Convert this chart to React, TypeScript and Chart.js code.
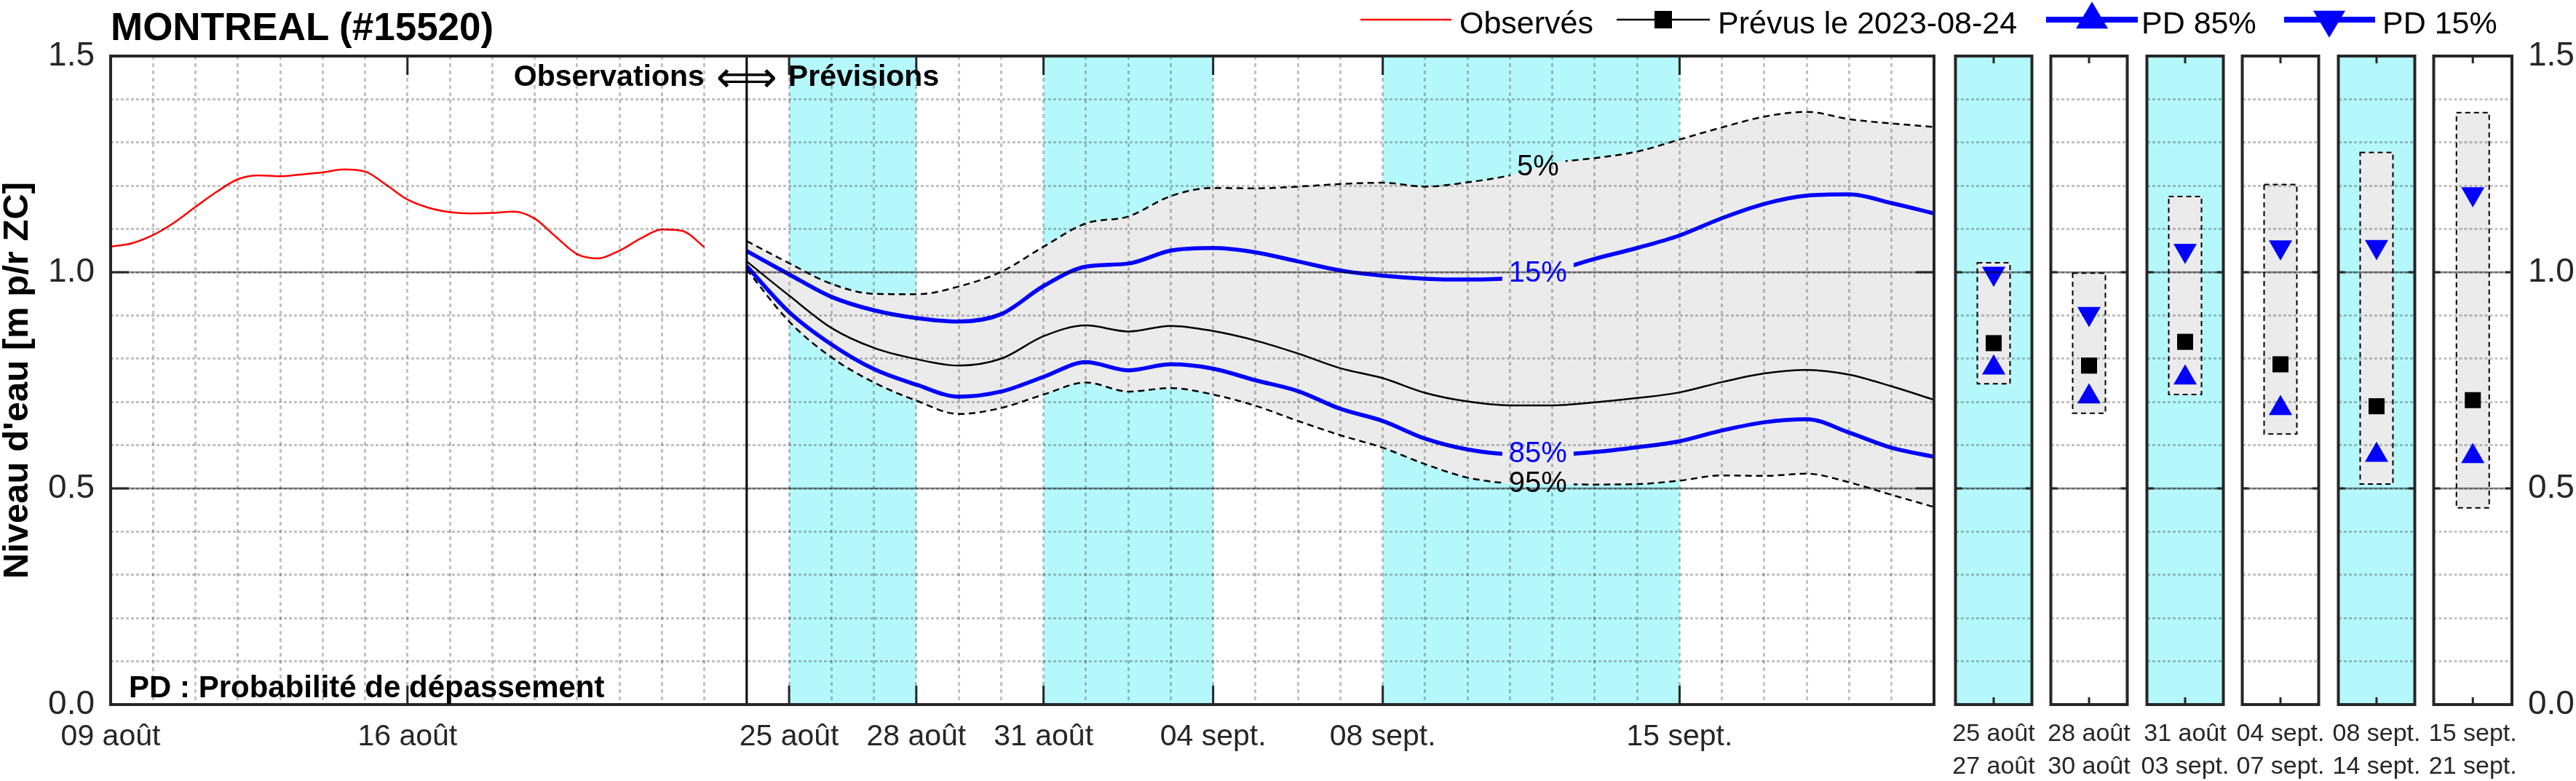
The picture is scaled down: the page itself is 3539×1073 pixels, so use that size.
import React, { useEffect, useRef } from 'react';
import { Chart, registerables } from 'chart.js';

Chart.register(...registerables);

const FONT = "'Liberation Sans', Arial, Helvetica, sans-serif";
const ARROW_FONT = "'DejaVu Sans', sans-serif";

// ---------------- data ----------------
// x axis: days since 09 août 2023
const X_MAX_DAY = 43;
const DATE_TICK_DAYS = [0, 7, 16, 19, 22, 26, 30, 37];
const DATE_TICK_LABELS = ['09 août', '16 août', '25 août', '28 août', '31 août', '04 sept.', '08 sept.', '15 sept.'];
const FORECAST_START_DAY = 15;
const SHADED_START_DAYS = [16, 22, 30];
const SHADED_END_DAYS = [19, 26, 37];

const Y_MIN = 0;
const Y_MAX = 1.5;
const Y_STEP = 0.1;
const Y_LABELED = [0, 0.5, 1.0, 1.5];
const Y_MAJOR_LINES = [0.5, 1.0];

// observed water level
const OBS_DAYS = [0, 0.5, 1, 1.5, 2, 2.5, 3, 3.5, 4, 4.5, 5, 5.5, 6, 6.5, 7, 7.5, 8, 8.5, 9, 9.5, 10, 10.5, 11, 11.5, 12, 12.5, 13, 13.5, 14];
const OBS_LEVEL = [1.059, 1.067, 1.086, 1.115, 1.151, 1.186, 1.215, 1.224, 1.222, 1.226, 1.231, 1.238, 1.233, 1.202, 1.168, 1.149, 1.139, 1.136, 1.137, 1.140, 1.124, 1.082, 1.042, 1.032, 1.050, 1.078, 1.099, 1.095, 1.058];

// forecast (issued 2023-08-24)
const FC_DAYS = [15, 16, 17, 18, 19, 20, 21, 22, 23, 24, 25, 26, 27, 28, 29, 30, 31, 32, 33, 34, 35, 36, 37, 38, 39, 40, 41, 42, 43];
const FC_P5 = [1.072, 1.021, 0.973, 0.950, 0.949, 0.967, 1.001, 1.059, 1.113, 1.129, 1.176, 1.195, 1.194, 1.198, 1.204, 1.207, 1.198, 1.208, 1.224, 1.252, 1.264, 1.279, 1.307, 1.335, 1.360, 1.371, 1.354, 1.344, 1.336];
const FC_P15 = [1.049, 0.995, 0.943, 0.912, 0.894, 0.886, 0.903, 0.968, 1.013, 1.020, 1.050, 1.056, 1.046, 1.025, 1.004, 0.992, 0.985, 0.983, 0.986, 1.003, 1.031, 1.056, 1.085, 1.125, 1.158, 1.177, 1.180, 1.160, 1.136];
const FC_MEDIAN = [1.025, 0.946, 0.871, 0.825, 0.799, 0.784, 0.800, 0.852, 0.877, 0.863, 0.876, 0.864, 0.842, 0.812, 0.778, 0.755, 0.721, 0.701, 0.692, 0.692, 0.699, 0.709, 0.722, 0.746, 0.766, 0.774, 0.763, 0.736, 0.705];
const FC_P85 = [1.014, 0.908, 0.833, 0.776, 0.740, 0.712, 0.724, 0.758, 0.792, 0.773, 0.787, 0.777, 0.750, 0.725, 0.684, 0.656, 0.615, 0.590, 0.579, 0.578, 0.584, 0.595, 0.609, 0.634, 0.653, 0.660, 0.629, 0.594, 0.573];
const FC_P95 = [1.006, 0.886, 0.803, 0.745, 0.703, 0.672, 0.686, 0.717, 0.745, 0.724, 0.732, 0.717, 0.691, 0.656, 0.623, 0.594, 0.556, 0.525, 0.512, 0.510, 0.509, 0.510, 0.518, 0.530, 0.529, 0.534, 0.514, 0.485, 0.457];
const PCT_LABEL_DAY = 33.66;

// period summaries
const PERIOD_LABELS = [['25 août', '27 août'], ['28 août', '30 août'], ['31 août', '03 sept.'], ['04 sept.', '07 sept.'], ['08 sept.', '14 sept.'], ['15 sept.', '21 sept.']];
const PERIOD_SHADED = [true, false, true, false, true, false];
const PERIOD_P5 = [1.022, 0.998, 1.175, 1.203, 1.277, 1.369];
const PERIOD_P15 = [0.997, 0.904, 1.050, 1.058, 1.059, 1.181];
const PERIOD_MEDIAN = [0.836, 0.784, 0.839, 0.787, 0.690, 0.704];
const PERIOD_P85 = [0.779, 0.712, 0.756, 0.685, 0.577, 0.574];
const PERIOD_P95 = [0.742, 0.674, 0.717, 0.626, 0.510, 0.455];

// ---------------- style / layout ----------------
const GRID_COLOR = 'rgba(0,0,0,0.24)';
const MAJOR_LINE_COLOR = 'rgba(0,0,0,0.45)';
const AXIS_COLOR = '#262626';
const CYAN = '#b4f8fc';
const BAND = '#ebebeb';
const BLUE = '#0000ff';

const W = 3539;
const H = 1073;
const PLOT_TOP = 77;
const X_AXIS_H = 105;
const MAIN_CANVAS_W = 2690;
const MAIN_LEFT = 152;
const MAIN_RIGHT_PAD = 33;
const PANEL_LEFTS = [2684, 2815, 2947, 3078, 3210, 3341];
const PANEL_W = 110;
const PANEL_PAD = 16;
const LAST_AXIS_W = 89;

const PCT_FONT = `40px ${FONT}`;

function fmtY(v: any) {
  const n = Number(v);
  return Y_LABELED.some((t) => Math.abs(t - n) < 1e-6) ? n.toFixed(1) : '';
}

function interp(xs: number[], ys: number[], x: number) {
  for (let i = 0; i < xs.length - 1; i++) {
    if (x >= xs[i] && x <= xs[i + 1]) {
      const t = (x - xs[i]) / (xs[i + 1] - xs[i]);
      return ys[i] + t * (ys[i + 1] - ys[i]);
    }
  }
  return ys[ys.length - 1];
}

function pctLabelBox(chart: any, ds: any) {
  const info = ds.pctLabel;
  const px = chart.scales.x.getPixelForValue(PCT_LABEL_DAY);
  const py = chart.scales.y.getPixelForValue(interp(FC_DAYS, info.values, PCT_LABEL_DAY));
  const ctx = chart.ctx;
  ctx.save();
  ctx.font = PCT_FONT;
  const w = ctx.measureText(info.text).width;
  ctx.restore();
  return { px, py, x: px - w / 2 - 9, y: py - 19, w: w + 18, h: 38 };
}

function seg(ctx: any, x1: number, y1: number, x2: number, y2: number) {
  ctx.beginPath();
  ctx.moveTo(x1, y1);
  ctx.lineTo(x2, y2);
  ctx.stroke();
}

const mainPlugin = {
  id: 'mainDecor',
  beforeDraw(chart: any) {
    const { ctx, chartArea: a, scales } = chart;
    ctx.save();
    ctx.fillStyle = CYAN;
    SHADED_START_DAYS.forEach((s, i) => {
      const x0 = scales.x.getPixelForValue(s);
      const x1 = scales.x.getPixelForValue(SHADED_END_DAYS[i]);
      ctx.fillRect(x0, a.top, x1 - x0, a.bottom - a.top);
    });
    ctx.restore();
  },
  beforeDatasetDraw(chart: any, args: any) {
    const ds = chart.data.datasets[args.index];
    if (!ds.pctLabel) return;
    const b = pctLabelBox(chart, ds);
    const ctx = chart.ctx;
    ctx.save();
    ctx.beginPath();
    ctx.rect(0, 0, chart.width, chart.height);
    ctx.rect(b.x, b.y, b.w, b.h);
    ctx.clip('evenodd');
  },
  afterDatasetDraw(chart: any, args: any) {
    const ds = chart.data.datasets[args.index];
    if (ds.pctLabel) chart.ctx.restore();
  },
  afterDraw(chart: any) {
    const { ctx, chartArea: a, scales } = chart;
    const xs = scales.x;
    const ys = scales.y;
    ctx.save();
    ctx.setLineDash([]);
    ctx.strokeStyle = MAJOR_LINE_COLOR;
    ctx.lineWidth = 2.5;
    Y_MAJOR_LINES.forEach((v) => {
      const py = ys.getPixelForValue(v);
      seg(ctx, a.left, py, a.right, py);
    });
    const sx = xs.getPixelForValue(FORECAST_START_DAY);
    ctx.strokeStyle = '#000';
    ctx.lineWidth = 3;
    seg(ctx, sx, a.top, sx, a.bottom);

    ctx.strokeStyle = AXIS_COLOR;
    ctx.lineWidth = 3;
    DATE_TICK_DAYS.forEach((d) => {
      const px = xs.getPixelForValue(d);
      seg(ctx, px, a.bottom, px, a.bottom - 26);
      seg(ctx, px, a.top, px, a.top + 26);
    });
    Y_MAJOR_LINES.forEach((v) => {
      const py = ys.getPixelForValue(v);
      seg(ctx, a.left, py, a.left + 25, py);
      seg(ctx, a.right - 25, py, a.right, py);
    });
    ctx.lineWidth = 4;
    ctx.strokeRect(a.left, a.top, a.right - a.left, a.bottom - a.top);

    // percentile labels
    ctx.font = PCT_FONT;
    ctx.textAlign = 'center';
    ctx.textBaseline = 'middle';
    chart.data.datasets.forEach((ds: any) => {
      if (!ds.pctLabel) return;
      const b = pctLabelBox(chart, ds);
      ctx.fillStyle = ds.pctLabel.color;
      ctx.fillText(ds.pctLabel.text, b.px, b.py);
    });

    // annotations
    ctx.fillStyle = '#000';
    ctx.textBaseline = 'alphabetic';
    ctx.font = `bold 41px ${FONT}`;
    ctx.textAlign = 'right';
    ctx.fillText('Observations', sx - 58, 118);
    ctx.textAlign = 'left';
    ctx.fillText('Prévisions', sx + 57, 118);
    ctx.font = `44px ${ARROW_FONT}`;
    const aw = ctx.measureText('⟺').width || 84;
    const asz = Math.max(20, Math.min(80, (44 * 84) / aw));
    ctx.font = `${asz}px ${ARROW_FONT}`;
    ctx.textAlign = 'center';
    ctx.textBaseline = 'middle';
    ctx.fillText('⟺', sx, 111);

    ctx.textAlign = 'left';
    ctx.textBaseline = 'alphabetic';
    ctx.font = `bold 42px ${FONT}`;
    ctx.fillText('PD : Probabilité de dépassement', 177, 958);
    ctx.restore();
  },
};

const panelPlugin = {
  id: 'panelDecor',
  beforeDraw(chart: any, _args: any, opts: any) {
    if (!opts || !opts.shaded) return;
    const { ctx, chartArea: a } = chart;
    ctx.save();
    ctx.fillStyle = CYAN;
    ctx.fillRect(a.left, a.top, a.right - a.left, a.bottom - a.top);
    ctx.restore();
  },
  afterDatasetDraw(chart: any, args: any) {
    const meta = chart.getDatasetMeta(args.index);
    if (meta.type !== 'bar') return;
    const ctx = chart.ctx;
    meta.data.forEach((el: any) => {
      const { x, y, base, width } = el.getProps(['x', 'y', 'base', 'width'], true);
      ctx.save();
      ctx.setLineDash([7, 5]);
      ctx.lineWidth = 2;
      ctx.strokeStyle = '#000';
      ctx.strokeRect(x - width / 2, Math.min(y, base), width, Math.abs(base - y));
      ctx.restore();
    });
  },
  afterDraw(chart: any) {
    const { ctx, chartArea: a, scales } = chart;
    ctx.save();
    ctx.setLineDash([]);
    ctx.strokeStyle = MAJOR_LINE_COLOR;
    ctx.lineWidth = 2.5;
    Y_MAJOR_LINES.forEach((v) => {
      const py = scales.y.getPixelForValue(v);
      seg(ctx, a.left, py, a.right, py);
    });
    ctx.strokeStyle = AXIS_COLOR;
    ctx.lineWidth = 3;
    Y_MAJOR_LINES.forEach((v) => {
      const py = scales.y.getPixelForValue(v);
      seg(ctx, a.left, py, a.left + 9, py);
      seg(ctx, a.right - 9, py, a.right, py);
    });
    const cx = scales.x.getPixelForValue(0);
    seg(ctx, cx, a.top, cx, a.top + 10);
    seg(ctx, cx, a.bottom, cx, a.bottom - 10);
    ctx.lineWidth = 4;
    ctx.strokeRect(a.left, a.top, a.right - a.left, a.bottom - a.top);
    ctx.restore();
  },
};

function pts(xs: number[], ys: number[]) {
  return xs.map((x, i) => ({ x, y: ys[i] }));
}

function fixX(s: any) {
  s.height = X_AXIS_H;
  s.paddingLeft = 0;
  s.paddingRight = 0;
}

function mainConfig(): any {
  const base = { pointRadius: 0, pointHoverRadius: 0, cubicInterpolationMode: 'monotone', fill: false };
  return {
    type: 'line',
    data: {
      datasets: [
        { ...base, label: 'Observés', data: pts(OBS_DAYS, OBS_LEVEL), borderColor: '#ff0000', borderWidth: 2.5, order: 1 },
        { ...base, label: 'PD 15%', data: pts(FC_DAYS, FC_P15), borderColor: BLUE, borderWidth: 5.5, order: 2, pctLabel: { text: '15%', color: BLUE, values: FC_P15 } },
        { ...base, label: 'PD 85%', data: pts(FC_DAYS, FC_P85), borderColor: BLUE, borderWidth: 5.5, order: 2, pctLabel: { text: '85%', color: BLUE, values: FC_P85 } },
        { ...base, label: 'Prévus le 2023-08-24', data: pts(FC_DAYS, FC_MEDIAN), borderColor: '#000', borderWidth: 2.5, order: 3 },
        { ...base, label: '5%', data: pts(FC_DAYS, FC_P5), borderColor: '#000', borderWidth: 2.5, borderDash: [9, 6], order: 4, pctLabel: { text: '5%', color: '#000', values: FC_P5 } },
        { ...base, label: '95%', data: pts(FC_DAYS, FC_P95), borderColor: '#000', borderWidth: 2.5, borderDash: [9, 6], order: 4, pctLabel: { text: '95%', color: '#000', values: FC_P95 } },
        { ...base, label: 'band-top', data: pts(FC_DAYS, FC_P5), borderColor: 'rgba(0,0,0,0)', borderWidth: 1, fill: '+1', backgroundColor: BAND, order: 10 },
        { ...base, label: 'band-bottom', data: pts(FC_DAYS, FC_P95), borderColor: 'rgba(0,0,0,0)', borderWidth: 1, order: 11 },
      ],
    },
    options: {
      animation: false,
      responsive: false,
      maintainAspectRatio: false,
      devicePixelRatio: 1,
      events: [],
      layout: { padding: { top: PLOT_TOP, left: 0, right: MAIN_RIGHT_PAD, bottom: 0 } },
      plugins: { legend: { display: false }, title: { display: false }, tooltip: { enabled: false } },
      scales: {
        x: {
          type: 'linear',
          min: 0,
          max: X_MAX_DAY,
          ticks: {
            stepSize: 1,
            autoSkip: false,
            maxRotation: 0,
            minRotation: 0,
            padding: 20,
            color: AXIS_COLOR,
            font: { family: FONT, size: 41 },
            callback: (v: any) => {
              const i = DATE_TICK_DAYS.findIndex((d) => Math.abs(d - Number(v)) < 1e-6);
              return i >= 0 ? DATE_TICK_LABELS[i] : '';
            },
          },
          grid: { color: GRID_COLOR, lineWidth: 3, drawTicks: false, z: 1 },
          border: { display: false, dash: [5, 5] },
          afterFit: fixX,
        },
        y: {
          min: Y_MIN,
          max: Y_MAX,
          ticks: { stepSize: Y_STEP, autoSkip: false, padding: 22, color: AXIS_COLOR, font: { family: FONT, size: 46 }, callback: fmtY },
          grid: { color: GRID_COLOR, lineWidth: 3, drawTicks: false, z: 1 },
          border: { display: false, dash: [4, 3] },
          title: {
            display: true,
            text: "Niveau d'eau [m p/r ZC]",
            color: '#000',
            font: { family: FONT, size: 49, weight: 'bold', lineHeight: 1 },
            padding: { top: 0, bottom: 0 },
          },
          afterFit: (s: any) => { s.width = MAIN_LEFT; },
        },
      },
    },
    plugins: [mainPlugin],
  };
}

function panelConfig(i: number): any {
  const last = i === PERIOD_LABELS.length - 1;
  const marker = { type: 'line', showLine: false, pointBorderWidth: 0, pointHoverRadius: 0 };
  return {
    type: 'bar',
    data: {
      labels: [PERIOD_LABELS[i]],
      datasets: [
        { ...marker, label: 'PD 15%', data: [PERIOD_P15[i]], pointStyle: 'triangle', pointRotation: 180, pointRadius: 18.5, pointBackgroundColor: BLUE, order: 0 },
        { ...marker, label: 'PD 85%', data: [PERIOD_P85[i]], pointStyle: 'triangle', pointRadius: 18.5, pointBackgroundColor: BLUE, order: 0 },
        { ...marker, label: 'Prévus', data: [PERIOD_MEDIAN[i]], pointStyle: 'rect', pointRadius: 15.6, pointBackgroundColor: '#000', order: 1 },
        { type: 'bar', label: '5%-95%', data: [[PERIOD_P95[i], PERIOD_P5[i]]], backgroundColor: BAND, borderWidth: 0, barThickness: 45, order: 5 },
      ],
    },
    options: {
      animation: false,
      responsive: false,
      maintainAspectRatio: false,
      devicePixelRatio: 1,
      events: [],
      layout: { padding: { top: PLOT_TOP, left: PANEL_PAD, right: last ? 0 : PANEL_PAD, bottom: 0 } },
      plugins: { legend: { display: false }, title: { display: false }, tooltip: { enabled: false }, panelDecor: { shaded: PERIOD_SHADED[i] } },
      scales: {
        x: {
          type: 'category',
          grid: { display: false },
          border: { display: false },
          ticks: { autoSkip: false, maxRotation: 0, minRotation: 0, padding: 10, color: AXIS_COLOR, font: { family: FONT, size: 34, lineHeight: 1.32 } },
          afterFit: fixX,
        },
        y: {
          min: Y_MIN,
          max: Y_MAX,
          position: last ? 'right' : 'left',
          ticks: { display: last, stepSize: Y_STEP, autoSkip: false, padding: 22, color: AXIS_COLOR, font: { family: FONT, size: 46 }, callback: fmtY },
          grid: { color: GRID_COLOR, lineWidth: 3, drawTicks: false, z: 1 },
          border: { display: false, dash: [4, 3] },
          afterFit: (s: any) => { s.width = last ? LAST_AXIS_W : 0; },
        },
      },
    },
    plugins: [panelPlugin],
  };
}

const legendText = (left: number, text: string) => (
  <div
    key={text}
    style={{ position: 'absolute', left, top: 10, font: `43px ${FONT}`, lineHeight: '43px', color: '#000', whiteSpace: 'nowrap' }}
  >
    {text}
  </div>
);

export default function App() {
  const mainRef = useRef<HTMLCanvasElement | null>(null);
  const panelRefs = useRef<(HTMLCanvasElement | null)[]>([]);

  useEffect(() => {
    Chart.defaults.font.family = FONT;
    const charts: any[] = [];
    if (mainRef.current) charts.push(new Chart(mainRef.current, mainConfig()));
    panelRefs.current.forEach((c, i) => {
      if (c) charts.push(new Chart(c, panelConfig(i)));
    });
    return () => charts.forEach((c) => c.destroy());
  }, []);

  const ly = 27;
  return (
    <div style={{ position: 'absolute', left: 0, top: 0, width: W, height: H, overflow: 'hidden', background: '#fff' }}>
      <canvas
        ref={mainRef}
        width={MAIN_CANVAS_W}
        height={H}
        style={{ position: 'absolute', left: 0, top: 0, width: MAIN_CANVAS_W, height: H }}
      />
      {PERIOD_LABELS.map((_, i) => {
        const last = i === PERIOD_LABELS.length - 1;
        const cw = PANEL_PAD + PANEL_W + (last ? LAST_AXIS_W : PANEL_PAD);
        return (
          <canvas
            key={i}
            ref={(el) => { panelRefs.current[i] = el; }}
            width={cw}
            height={H}
            style={{ position: 'absolute', left: PANEL_LEFTS[i] - PANEL_PAD, top: 0, width: cw, height: H }}
          />
        );
      })}
      <div
        style={{ position: 'absolute', left: 152, top: 10, font: `bold 53px ${FONT}`, lineHeight: '53px', color: '#000', whiteSpace: 'nowrap' }}
      >
        MONTREAL (#15520)
      </div>
      <svg style={{ position: 'absolute', left: 0, top: 0 }} width={W} height={70}>
        <line x1={1869} y1={ly} x2={1994} y2={ly} stroke="#ff0000" strokeWidth={2.5} />
        <line x1={2221} y1={ly} x2={2349} y2={ly} stroke="#000" strokeWidth={2.5} />
        <rect x={2285 - 12} y={ly - 12} width={24} height={24} fill="#000" />
        <line x1={2811} y1={ly} x2={2937} y2={ly} stroke={BLUE} strokeWidth={8} />
        <polygon points={`${2874},${ly - 24.7} ${2874 + 22},${ly + 12.3} ${2874 - 22},${ly + 12.3}`} fill={BLUE} />
        <line x1={3138} y1={ly} x2={3263} y2={ly} stroke={BLUE} strokeWidth={8} />
        <polygon points={`${3200 - 22},${ly - 12.3} ${3200 + 22},${ly - 12.3} ${3200},${ly + 24.7}`} fill={BLUE} />
      </svg>
      {legendText(2005, 'Observés')}
      {legendText(2360, 'Prévus le 2023-08-24')}
      {legendText(2942, 'PD 85%')}
      {legendText(3273, 'PD 15%')}
    </div>
  );
}
